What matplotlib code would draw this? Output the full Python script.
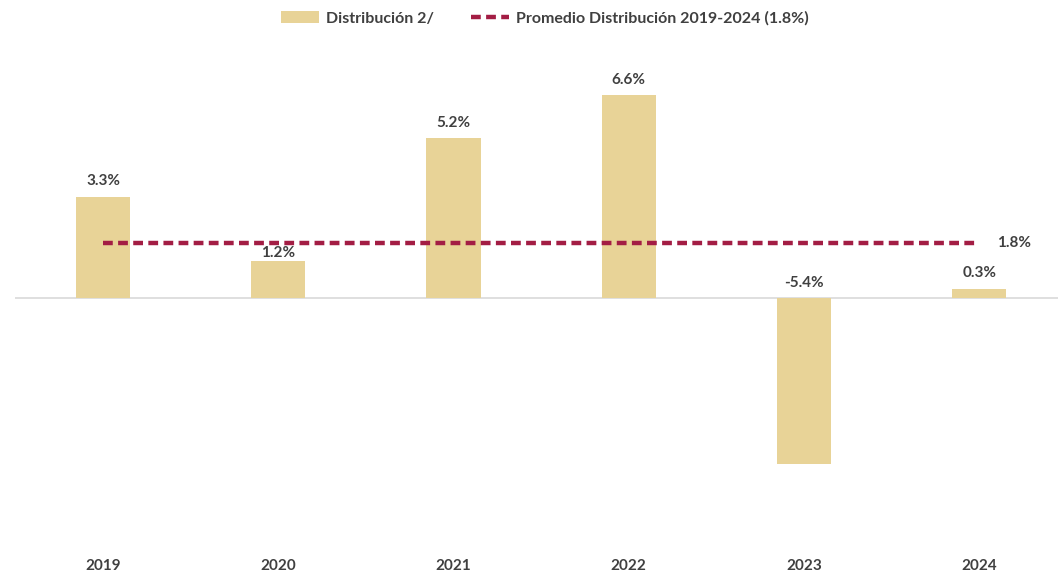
import matplotlib.pyplot as plt

# Datos del gráfico
years = ["2019", "2020", "2021", "2022", "2023", "2024"]
distribucion = [3.3, 1.2, 5.2, 6.6, -5.4, 0.3]
promedio = 1.8

bar_color = "#E8D397"
line_color = "#A31D44"
text_color = "#404040"

plt.rcParams["font.family"] = ["Lato", "DejaVu Sans"]

fig = plt.figure(figsize=(10.58, 5.76), dpi=100)
ax = fig.add_axes([15 / 1058, 31 / 576, 1 - 15 / 1058, 505 / 576])

x = list(range(len(years)))
bars = ax.bar(x, distribucion, width=0.31, color=bar_color, zorder=2)
line, = ax.plot([x[0], x[-1]], [promedio, promedio], color=line_color, lw=3.2,
                dashes=(2.2, 1.2), solid_capstyle="butt", zorder=3)
ax.axhline(0, color="#D9D9D9", lw=1.2, zorder=1)

# Etiquetas de datos (la de 2020 queda pegada a la barra, como en el original)
for xi, v in zip(x, distribucion):
    off = 1 if xi == 1 else 6
    ax.annotate(f"{v:.1f}%", (xi, max(v, 0)), xytext=(0, off),
                textcoords="offset points", ha="center", va="bottom",
                fontsize=11, fontweight="bold", color=text_color, zorder=4)
ax.annotate(f"{promedio:.1f}%", (x[-1], promedio), xytext=(13, 0),
            textcoords="offset points", ha="left", va="center",
            fontsize=11, fontweight="bold", color=text_color)

ax.set_xlim(-0.502, 5.45)
ax.set_ylim(-8.05, 8.40)
ax.set_xticks(x)
ax.set_xticklabels(years, fontsize=11, fontweight="bold", color=text_color)
ax.tick_params(axis="x", length=0, pad=10)
ax.set_yticks([])
for s in ax.spines.values():
    s.set_visible(False)

fig.legend([bars, line],
           ["Distribución 2/", "Promedio Distribución 2019-2024 (1.8%)"],
           loc="center", bbox_to_anchor=(0.515, 0.968), ncol=2, frameon=False,
           handlelength=2.4, handletextpad=0.45, columnspacing=2.3,
           prop={"weight": "bold", "size": 11.5}, labelcolor=text_color)

fig.savefig("out.png", dpi=100)
